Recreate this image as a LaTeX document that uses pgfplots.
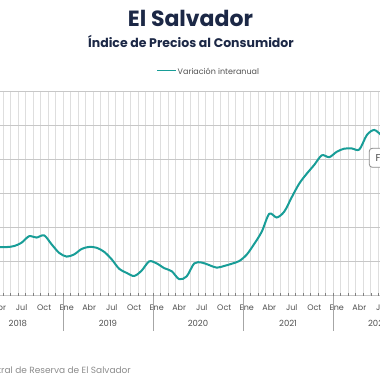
\documentclass[border=0pt]{standalone}
\usepackage{fontspec}
\setmainfont{Poppins}
\usepackage{pgfplots}
\pgfplotsset{compat=1.18}
\definecolor{navyt}{RGB}{28,40,70}
\definecolor{lineteal}{RGB}{24,157,151}
\definecolor{lblgray}{RGB}{80,80,80}
\pgfplotstableread{
m v
0 0.85
1 0.8
2 0.85
3 0.86
4 0.86
5 0.92
6 1.12
7 1.5
8 1.42
9 1.55
10 1.02
11 0.52
12 0.3
13 0.43
14 0.75
15 0.87
16 0.82
17 0.58
18 0.14
19 -0.42
20 -0.66
21 -0.84
22 -0.52
23 0.02
24 -0.1
25 -0.38
26 -0.56
27 -1.03
28 -0.86
29 -0.1
30 -0.05
31 -0.2
32 -0.35
33 -0.25
34 -0.12
35 0.04
36 0.42
37 1.05
38 1.77
39 2.82
40 2.6
41 2.95
42 3.8
43 4.6
44 5.18
45 5.7
46 6.26
47 6.15
48 6.47
49 6.65
50 6.66
51 6.6
52 7.45
53 7.75
54 7.4
}\ipcdata
\begin{document}
\begin{tikzpicture}[x=1pt,y=1pt]
\begin{axis}[
  at={(-27.16pt,84.3pt)}, anchor=south west,
  scale only axis, width=450.3pt, height=204pt,
  xmin=-0.5, xmax=59.5, ymin=-2, ymax=10,
  clip=false,
  axis line style={draw=none},
  xtick pos=bottom, ytick pos=left,
  xtick={0,3,...,57},
  xticklabels={Ene,Abr,Jul,Oct,Ene,Abr,Jul,Oct,Ene,Abr,Jul,Oct,Ene,Abr,Jul,Oct,Ene,Abr,Jul,Oct},
  xticklabel style={font=\fontsize{8}{9}\selectfont, text=lblgray, anchor=base, yshift=-14.5pt},
  major tick length=0pt,
  minor xtick={-0.5,0.5,...,59.5},
  xminorgrids=true,
  minor grid style={draw=black!13, line width=0.7pt},
  ytick={-2,0,...,10},
  yticklabels={},
  ymajorgrids=true,
  major grid style={draw=black!22, line width=0.7pt},
  extra y ticks={0},
  extra y tick labels={},
  extra y tick style={grid style={draw=black!40, line width=0.8pt}},
  extra x ticks={11.5,23.5,35.5,47.5},
  extra x tick labels={},
  extra x tick style={grid=none, tick align=outside, major tick length=35pt, tick style={draw=black!35, line width=0.7pt}},
]
\addplot[lineteal, line width=2pt, smooth, tension=0.5] table[x=m, y=v] {\ipcdata};
\node[font=\fontsize{8.5}{10}\selectfont, text=lblgray, anchor=base, yshift=-31pt] at (axis cs:5.5,-2) {2018};
\node[font=\fontsize{8.5}{10}\selectfont, text=lblgray, anchor=base, yshift=-31pt] at (axis cs:17.5,-2) {2019};
\node[font=\fontsize{8.5}{10}\selectfont, text=lblgray, anchor=base, yshift=-31pt] at (axis cs:29.5,-2) {2020};
\node[font=\fontsize{8.5}{10}\selectfont, text=lblgray, anchor=base, yshift=-31pt] at (axis cs:41.5,-2) {2021};
\node[font=\fontsize{8.5}{10}\selectfont, text=lblgray, anchor=base, yshift=-31pt] at (axis cs:53.5,-2) {2022};
\end{axis}
\node[font=\fontsize{22}{24}\bfseries\selectfont, text=navyt, anchor=base] at (190.5,353.3) {El Salvador};
\node[font=\fontsize{12.5}{14}\bfseries\selectfont, text=navyt, anchor=base] at (191,332.3) {Índice de Precios al Consumidor};
\draw[lineteal, line width=1.6pt] (157,309.3) -- (176,309.3);
\node[font=\fontsize{8}{10}\selectfont, text=lblgray, anchor=base west, inner sep=0pt] at (177.5,305.5) {Variación interanual};
\draw[rounded corners=3pt, draw=black!45, fill=white, line width=0.8pt] (369.3,212.7) rectangle (420,231.7);
\node[font=\fontsize{10}{12}\selectfont, text=black!70, anchor=base west, inner sep=0pt] at (375.5,218.3) {F};
\node[font=\fontsize{9}{11}\selectfont, text=black!45, anchor=base east, inner sep=0pt] at (131,6) {Fuente: Banco Central de Reserva de El Salvador};
\pgfresetboundingbox
\useasboundingbox (0,0) rectangle (380,380);
\end{tikzpicture}
\end{document}
